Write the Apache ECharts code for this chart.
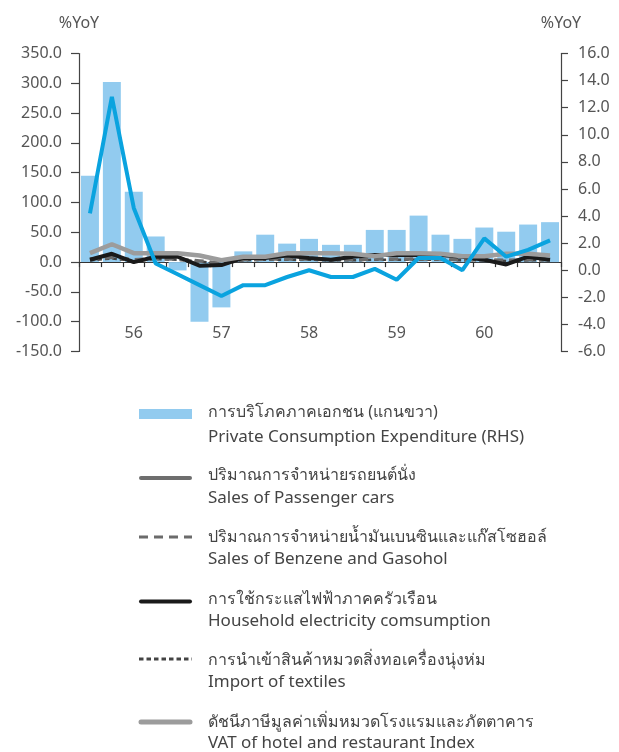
<!DOCTYPE html>
<html>
<head>
<meta charset="utf-8">
<script src="https://cdn.jsdelivr.net/npm/echarts@6/dist/echarts.min.js"></script>
<style>
  html, body { margin: 0; padding: 0; background: #fff; }
  #chart { width: 619px; height: 752px; }
</style>
</head>
<body>
<div id="chart"></div>
<script>
// ---- data ----
const categories = ['4Q55','1Q56','2Q56','3Q56','4Q56','1Q57','2Q57','3Q57','4Q57','1Q58','2Q58','3Q58','4Q58','1Q59','2Q59','3Q59','4Q59','1Q60','2Q60','3Q60','4Q60','1Q61'];
const xTickLabels = ['', '', '56', '', '', '', '57', '', '', '', '58', '', '', '', '59', '', '', '', '60', '', '', ''];
// bars (left axis)
const barValues = [145, 302, 118, 43, -14, -100, -76, 18, 46, 31, 39, 29, 29, 54, 54, 78, 46, 39, 58, 51, 63, 67];
// blue line (right axis)
const blueLine = [4.2, 12.8, 4.6, 0.5, -0.3, -1.1, -1.9, -1.1, -1.1, -0.5, 0.0, -0.5, -0.5, 0.1, -0.7, 0.9, 0.9, 0.0, 2.35, 1.0, 1.5, 2.2];
// left-axis lines
const vatHotel = [15, 30, 15, 15, 15, 11, 3, 9, 9, 15, 15, 15, 14, 10, 15, 15, 14, 10, 10, 14, 14, 11];
const electricity = [4, 14, 0, 9, 9, -6, -5, 7, 7, 11, 7, 4, 9, 12, 12, 12, 12, 9, 4, -4, 9, 4];
const benzene = [5, 8, 4, 6, 5, 2, -2, 4, 5, 5, 5, 4, 4, 5, 5, 5, 5, 4, 4, 3, 4, 4];
const textiles = [3, 6, 2, 5, 4, 1, -3, 3, 4, 4, 4, 3, 3, 4, 4, 4, 4, 3, 3, 2, 3, 3];
// axis ticks
const leftAxis = { min: -150, max: 350, interval: 50 };
const rightAxis = { min: -6, max: 16, interval: 2 };
// legend texts
const legendThai = [
  'การบริโภคภาคเอกชน (แกนขวา)',
  'ปริมาณการจำหน่ายรถยนต์นั่ง',
  'ปริมาณการจำหน่ายน้ำมันเบนซินและแก๊สโซฮอล์',
  'การใช้กระแสไฟฟ้าภาคครัวเรือน',
  'การนำเข้าสินค้าหมวดสิ่งทอเครื่องนุ่งห่ม',
  'ดัชนีภาษีมูลค่าเพิ่มหมวดโรงแรมและภัตตาคาร'
];
const legendEn = [
  'Private Consumption Expenditure (RHS)',
  'Sales of Passenger cars',
  'Sales of Benzene and Gasohol',
  'Household electricity comsumption',
  'Import of textiles',
  'VAT of hotel and restaurant Index'
];

// ---- styles ----
const FONT = '"Noto Sans", "DejaVu Sans", sans-serif';
const BAR_COLOR = '#92CBEF';
const BLUE = '#0AA3DF';
const textColor = '#555';

const legendStyles = [
  { kind: 'rect', color: BAR_COLOR },
  { kind: 'line', color: '#6e6e6e', width: 4, dash: null },
  { kind: 'line', color: '#6b6b6b', width: 3, dash: [9, 6] },
  { kind: 'line', color: '#1a1a1a', width: 4, dash: null },
  { kind: 'line', color: '#444', width: 3, dash: [4.5, 3] },
  { kind: 'line', color: '#9c9c9c', width: 5, dash: null }
];
const legendThaiY = [412, 475, 537, 599, 660, 722];
const legendEnY = [437, 498, 559, 621, 682, 743];
const legendIconY = [414, 478, 537, 601.5, 659, 722];

const graphics = [];
legendStyles.forEach((s, i) => {
  if (s.kind === 'rect') {
    graphics.push({ type: 'rect', shape: { x: 139, y: legendIconY[i] - 5, width: 53, height: 10 }, style: { fill: s.color } });
  } else {
    graphics.push({
      type: 'line',
      shape: { x1: s.dash ? 139 : 141, y1: legendIconY[i], x2: s.dash ? 192 : 190, y2: legendIconY[i] },
      style: { stroke: s.color, lineWidth: s.width, lineDash: s.dash || null, lineCap: s.dash ? 'butt' : 'round' }
    });
  }
  graphics.push({ type: 'text', x: 208, y: legendThaiY[i], style: { text: legendThai[i], font: '16px ' + FONT, fill: '#444', verticalAlign: 'middle' } });
  graphics.push({ type: 'text', x: 208, y: legendEnY[i], style: { text: legendEn[i], font: '17px ' + FONT, fill: '#444', verticalAlign: 'middle' } });
});

const chart = echarts.init(document.getElementById('chart'), null, { renderer: 'canvas' });
const yAxisCommon = {
  type: 'value',
  name: '%YoY',
  nameLocation: 'end',
  nameGap: 22,
  nameTextStyle: { color: textColor, fontSize: 16, fontFamily: FONT, align: 'center' },
  splitLine: { show: false },
  axisLine: { show: true, lineStyle: { color: '#444', width: 1.2 } },
  axisLabel: { color: textColor, fontSize: 16, fontFamily: FONT, margin: 17, formatter: v => v.toFixed(1) }
};
chart.setOption({
  animation: false,
  backgroundColor: '#fff',
  grid: { left: 79, right: 58, top: 53.5, bottom: 400.5, containLabel: false },
  xAxis: {
    type: 'category',
    data: categories,
    boundaryGap: true,
    axisLine: { show: true, onZero: true, lineStyle: { color: '#333', width: 1.2 } },
    axisTick: { show: true, interval: 0, length: 5, lineStyle: { color: '#333', width: 1.2 } },
    axisLabel: { interval: 0, margin: -26, color: textColor, fontSize: 16, fontFamily: FONT, formatter: (v, i) => xTickLabels[i] },
    splitLine: { show: false }
  },
  yAxis: [
    Object.assign({}, yAxisCommon, {
      position: 'left', min: leftAxis.min, max: leftAxis.max, interval: leftAxis.interval,
      axisTick: { show: true, length: 8, lineStyle: { color: '#444', width: 1.2 } }
    }),
    Object.assign({}, yAxisCommon, {
      position: 'right', min: rightAxis.min, max: rightAxis.max, interval: rightAxis.interval,
      axisTick: { show: true, length: 7, lineStyle: { color: '#444', width: 1.2 } }
    })
  ],
  series: [
    { name: 'Sales of Passenger cars', type: 'bar', yAxisIndex: 0, data: barValues, barCategoryGap: '18%', itemStyle: { color: BAR_COLOR } },
    { name: 'Import of textiles', type: 'line', yAxisIndex: 0, data: textiles, symbol: 'none', lineStyle: { color: '#444', width: 2.5, type: [4.5, 3] } },
    { name: 'Sales of Benzene and Gasohol', type: 'line', yAxisIndex: 0, data: benzene, symbol: 'none', lineStyle: { color: '#6b6b6b', width: 3.5, type: [9, 6] } },
    { name: 'Household electricity comsumption', type: 'line', yAxisIndex: 0, data: electricity, symbol: 'none', lineStyle: { color: '#1a1a1a', width: 4 } },
    { name: 'VAT of hotel and restaurant Index', type: 'line', yAxisIndex: 0, data: vatHotel, symbol: 'none', lineStyle: { color: '#9c9c9c', width: 4.5 } },
    { name: 'Private Consumption Expenditure (RHS)', type: 'line', yAxisIndex: 1, data: blueLine, symbol: 'none', lineStyle: { color: BLUE, width: 4 } }
  ],
  graphic: graphics
});
</script>
</body>
</html>
